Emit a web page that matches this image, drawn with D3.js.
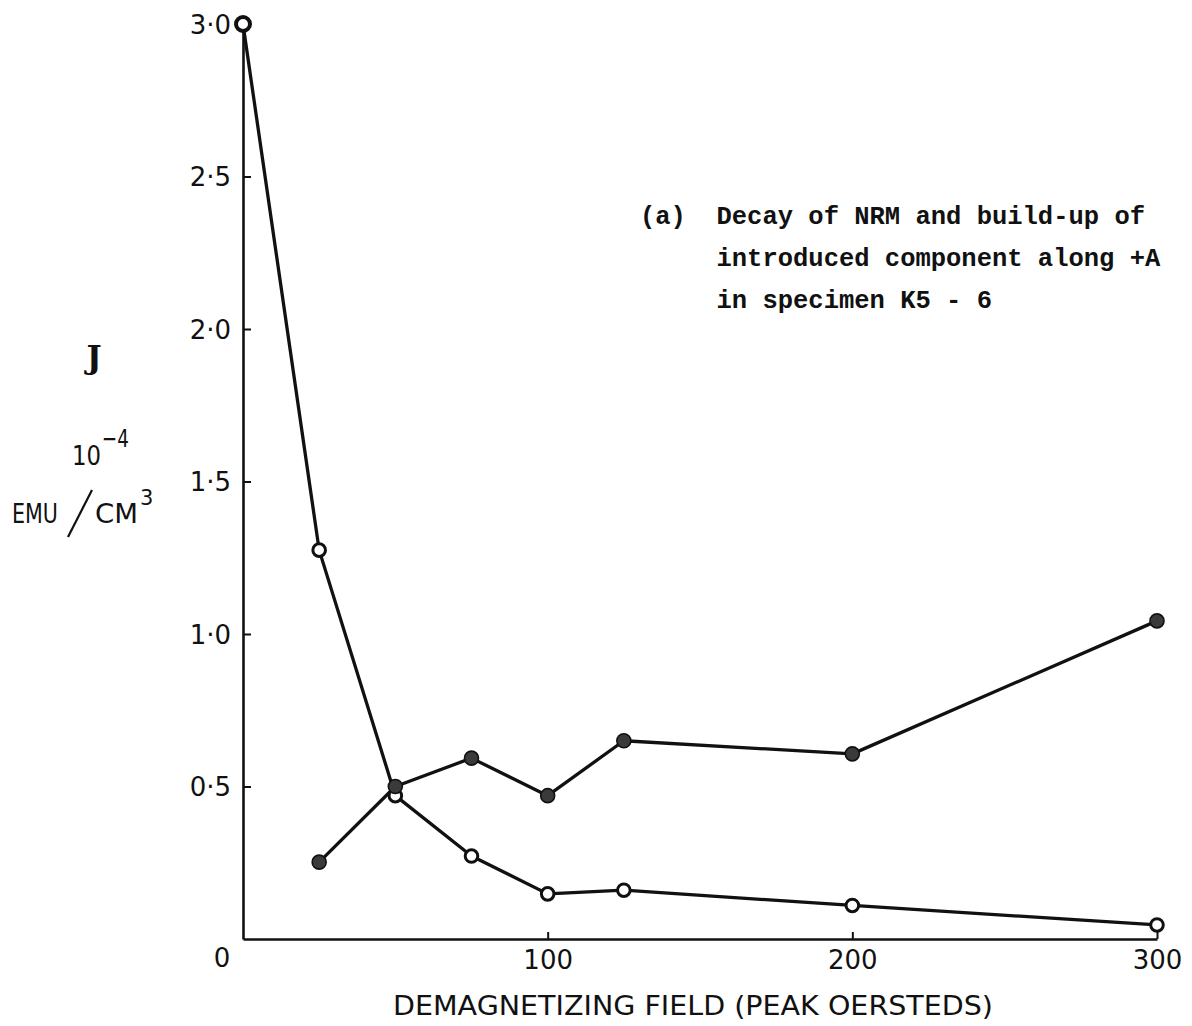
<!DOCTYPE html>
<html>
<head>
<meta charset="utf-8">
<script src="https://cdn.jsdelivr.net/npm/d3@7"></script>
<style>
  html, body { margin: 0; padding: 0; background: #fff; }
  svg { display: block; }
  .tick text { font-family: "DejaVu Sans", sans-serif; font-size: 26px; fill: #111; }
</style>
</head>
<body>
<svg id="chart" width="1192" height="1026"></svg>
<script>
// Demagnetizing field steps (peak oersteds)
const fieldSteps = [0, 25, 50, 75, 100, 125, 200, 300];
// Remaining NRM intensity, 10^-4 emu/cm^3 (open circles)
const nrmDecay = [3.0, 1.275, 0.47, 0.272, 0.148, 0.16, 0.11, 0.046];
// Introduced component along +A (filled circles), no reading at 0 Oe
const introducedSteps = [25, 50, 75, 100, 125, 200, 300];
const introducedBuildUp = [0.252, 0.50, 0.593, 0.47, 0.65, 0.607, 1.043];

const yTickValues = [0.5, 1.0, 1.5, 2.0, 2.5, 3.0];
const xTickValues = [100, 200, 300];
const annotationLines = [
  "(a)  Decay of NRM and build-up of",
  "     introduced component along +A",
  "     in specimen K5 - 6"
];

const svg = d3.select("#chart");
const ink = "#111";

const x = d3.scaleLinear().domain([0, 300]).range([243, 1157]);
const y = d3.scaleLinear().domain([0, 3]).range([939, 24]);

// Axes: inward ticks, decimal point written as a raised dot
const yAxis = d3.axisLeft(y)
  .tickValues(yTickValues)
  .tickSizeInner(-8)
  .tickSizeOuter(0)
  .tickPadding(12)
  .tickFormat(d => d3.format(".1f")(d).replace(".", "·"));

const xAxis = d3.axisBottom(x)
  .tickValues(xTickValues)
  .tickSizeInner(-7)
  .tickSizeOuter(0)
  .tickPadding(12)
  .tickFormat(d3.format("d"));

const gy = svg.append("g").attr("transform", `translate(${x(0)},0)`).call(yAxis);
const gx = svg.append("g").attr("transform", `translate(0,${y(0)})`).call(xAxis);

[gy, gx].forEach(g => {
  g.select(".domain").attr("stroke", ink).attr("stroke-width", 2.6);
  g.selectAll(".tick line").attr("stroke", ink).attr("stroke-width", 2);
});
gy.selectAll(".tick text").attr("dy", "0.36em");

// Origin label sits below and left of the corner
svg.append("text")
  .attr("x", x(0) - 21).attr("y", y(0) + 28)
  .attr("text-anchor", "middle")
  .attr("font-family", "DejaVu Sans, sans-serif")
  .attr("font-size", 26).attr("fill", ink)
  .text("0");

// X axis title
svg.append("text")
  .attr("x", 393).attr("y", 1015)
  .attr("font-family", "DejaVu Sans, sans-serif")
  .attr("font-size", 26).attr("fill", ink)
  .attr("textLength", 600).attr("lengthAdjust", "spacingAndGlyphs")
  .text("DEMAGNETIZING FIELD (PEAK OERSTEDS)");

// Y axis label: J, 10^-4 EMU/CM^3
svg.append("text")
  .attr("x", 94).attr("y", 368)
  .attr("text-anchor", "middle")
  .attr("font-family", "DejaVu Serif, serif")
  .attr("font-weight", "bold")
  .attr("font-size", 32).attr("fill", ink)
  .text("J");

const labelFont = "DejaVu Sans, sans-serif";
svg.append("text")
  .attr("x", 72).attr("y", 465)
  .attr("font-family", labelFont).attr("font-size", 27).attr("fill", ink)
  .attr("textLength", 29).attr("lengthAdjust", "spacingAndGlyphs")
  .text("10");
svg.append("text")
  .attr("x", 102).attr("y", 447)
  .attr("font-family", labelFont).attr("font-size", 25).attr("fill", ink)
  .attr("textLength", 27).attr("lengthAdjust", "spacingAndGlyphs")
  .text("−4");

svg.append("text")
  .attr("x", 12).attr("y", 523)
  .attr("font-family", labelFont).attr("font-size", 27).attr("fill", ink)
  .attr("textLength", 46).attr("lengthAdjust", "spacingAndGlyphs")
  .text("EMU");
svg.append("text")
  .attr("x", 95).attr("y", 523)
  .attr("font-family", labelFont).attr("font-size", 27).attr("fill", ink)
  .attr("textLength", 43).attr("lengthAdjust", "spacingAndGlyphs")
  .text("CM");
svg.append("text")
  .attr("x", 140).attr("y", 505)
  .attr("font-family", labelFont).attr("font-size", 21).attr("fill", ink)
  .text("3");
svg.append("line")
  .attr("x1", 68).attr("y1", 537).attr("x2", 92).attr("y2", 490)
  .attr("stroke", ink).attr("stroke-width", 2.2);

// Annotation block, typewriter face
const note = svg.append("text")
  .attr("font-family", "Liberation Mono, monospace")
  .attr("font-weight", "bold")
  .attr("font-size", 25.5).attr("fill", ink)
  .attr("xml:space", "preserve")
  .style("white-space", "pre");
annotationLines.forEach((t, i) => {
  note.append("tspan").attr("x", 640).attr("y", 224 + i * 42).text(t);
});

// Series lines
const line = d3.line().x(d => x(d[0])).y(d => y(d[1]));
const nrmPts = fieldSteps.map((f, i) => [f, nrmDecay[i]]);
const introPts = introducedSteps.map((f, i) => [f, introducedBuildUp[i]]);

[introPts, nrmPts].forEach(pts => {
  svg.append("path").datum(pts)
    .attr("d", line).attr("fill", "none")
    .attr("stroke", ink).attr("stroke-width", 3.3)
    .attr("stroke-linejoin", "round");
});

// Markers: open for NRM, filled for introduced component (drawn on top)
svg.append("g").selectAll("circle").data(nrmPts).join("circle")
  .attr("cx", d => x(d[0])).attr("cy", d => y(d[1]))
  .attr("r", (d, i) => i === 0 ? 7 : 6.3)
  .attr("fill", "#fff").attr("stroke", ink)
  .attr("stroke-width", (d, i) => i === 0 ? 4 : 3);

svg.append("g").selectAll("circle").data(introPts).join("circle")
  .attr("cx", d => x(d[0])).attr("cy", d => y(d[1])).attr("r", 7)
  .attr("fill", "#3a3a3a").attr("stroke", ink).attr("stroke-width", 1.6);
</script>
</body>
</html>
